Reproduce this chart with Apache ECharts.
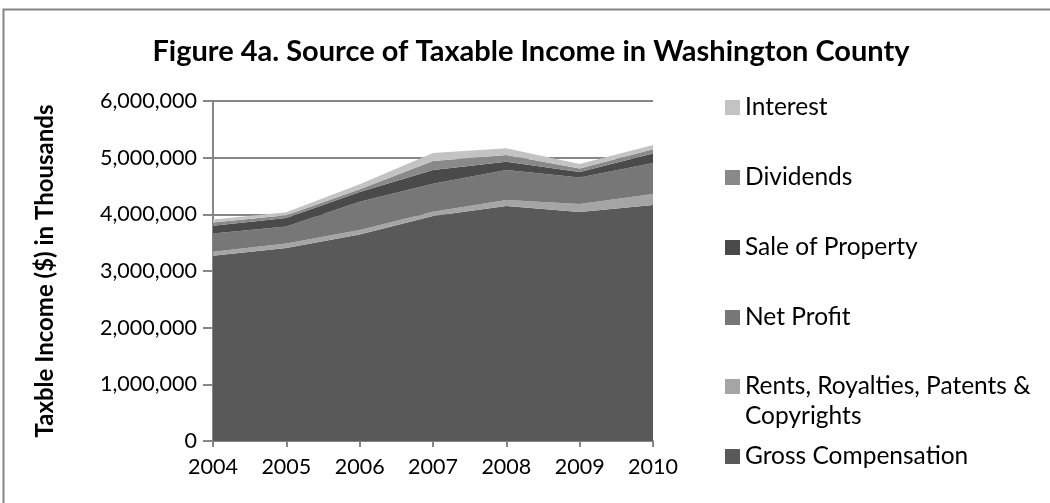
<!DOCTYPE html>
<html>
<head>
<meta charset="utf-8">
<script src="https://cdn.jsdelivr.net/npm/echarts@6/dist/echarts.min.js"></script>
<style>
html,body{margin:0;padding:0;background:#fff;}
#chart{width:1050px;height:503px;}
</style>
</head>
<body>
<div id="chart"></div>
<script>
const years = ['2004','2005','2006','2007','2008','2009','2010'];
const grossCompensation = [3270000, 3405000, 3645000, 3970000, 4147000, 4040000, 4165000];
const rentsRoyalties    = [  70000,   80000,   78000,   76000,  106000,  141000,  194000];
const netProfit         = [ 320000,  300000,  500000,  493000,  529000,  468000,  547000];
const saleOfProperty    = [ 140000,  150000,  170000,  243000,  147000,   97000,  167000];
const dividends         = [  55000,   50000,   50000,  159000,  118000,   62000,   74000];
const interest          = [  55000,   50000,   88000,  141000,  118000,   79000,   76000];
const yTicks = [0, 1000000, 2000000, 3000000, 4000000, 5000000, 6000000];

const FONT = 'Lato';
const seriesDefs = [
  {name: 'Gross Compensation', data: grossCompensation, color: '#595959'},
  {name: 'Rents, Royalties, Patents &', data: rentsRoyalties, color: '#a5a5a5'},
  {name: 'Net Profit', data: netProfit, color: '#777777'},
  {name: 'Sale of Property', data: saleOfProperty, color: '#4a4a4a'},
  {name: 'Dividends', data: dividends, color: '#898989'},
  {name: 'Interest', data: interest, color: '#c3c3c3'}
];

const legendOrder = ['Interest','Dividends','Sale of Property','Net Profit','Rents, Royalties, Patents &','Gross Compensation'];
const legendCenters = [107.5, 177.5, 247.5, 317.5, 386.5, 456.5];

const chart = echarts.init(document.getElementById('chart'), null, {renderer: 'canvas'});
chart.setOption({
  animation: false,
  backgroundColor: '#ffffff',
  color: seriesDefs.map(s => s.color),
  title: {
    text: 'Figure 4a. Source of Taxable Income in Washington County',
    left: 526, top: 32, textAlign: 'center',
    textStyle: {fontFamily: FONT, fontWeight: 'bold', fontSize: 29, color: '#000'}
  },
  graphic: [
    {type: 'rect', shape: {x: 3.5, y: 9.5, width: 1100, height: 600},
     style: {fill: null, stroke: '#868686', lineWidth: 2}, silent: true, z: -10},
    {type: 'text', left: 745, top: 404,
     style: {text: 'Copyrights', fontFamily: FONT, fontSize: 24.5, fill: '#000'}}
  ],
  legend: legendOrder.map((n, i) => ({
    data: [n],
    orient: 'vertical',
    left: 725,
    top: legendCenters[i] - 14,
    itemWidth: 15, itemHeight: 15,
    icon: 'rect',
    selectedMode: false,
    padding: 0,
    textStyle: {fontFamily: FONT, fontSize: 24.5, color: '#000', lineHeight: 28}
  })),
  grid: {left: 213, right: 397, top: 101, bottom: 62, containLabel: false},
  xAxis: {
    type: 'category', data: years, boundaryGap: false,
    axisLine: {lineStyle: {color: '#868686', width: 2}},
    axisTick: {show: true, length: 6, lineStyle: {color: '#868686', width: 2}},
    axisLabel: {fontFamily: FONT, fontSize: 21.5, color: '#000', margin: 15}
  },
  yAxis: {
    type: 'value', min: 0, max: 6000000, interval: 1000000,
    name: 'Taxble Income ($) in Thousands',
    nameLocation: 'middle', nameRotate: 90, nameGap: 156,
    nameTextStyle: {fontFamily: FONT, fontWeight: 'bold', fontSize: 24, color: '#000'},
    axisLine: {show: true, lineStyle: {color: '#868686', width: 2}},
    axisTick: {show: true, length: 10, lineStyle: {color: '#868686', width: 2}},
    splitLine: {lineStyle: {color: '#868686', width: 2}},
    axisLabel: {fontFamily: FONT, fontSize: 21.5, color: '#000', margin: 16,
      formatter: v => yTicks.includes(v) ? v.toLocaleString('en-US') : ''}
  },
  series: seriesDefs.map(s => ({
    name: s.name, type: 'line', stack: 'total', data: s.data,
    showSymbol: false, symbol: 'none',
    lineStyle: {width: 0}, areaStyle: {color: s.color, opacity: 1},
    itemStyle: {color: s.color}, z: 2
  }))
});
</script>
</body>
</html>
